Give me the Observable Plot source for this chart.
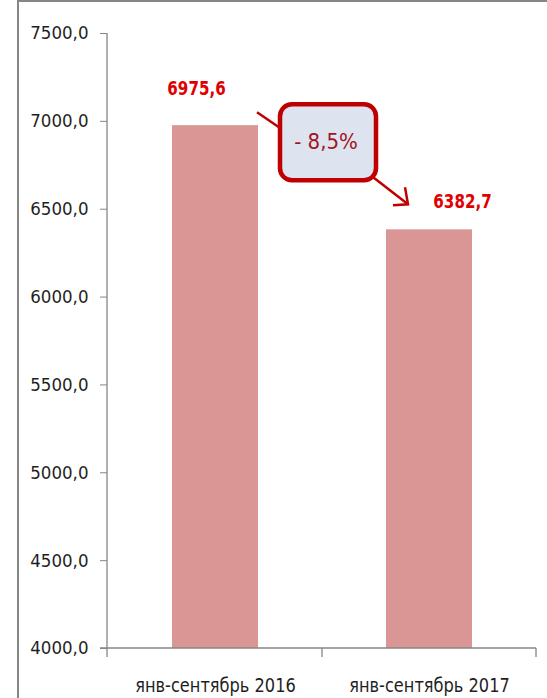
<!DOCTYPE html>
<html><head><meta charset="utf-8">
<script src="https://cdn.jsdelivr.net/npm/d3@7"></script>
<script src="https://cdn.jsdelivr.net/npm/@observablehq/plot@0.6"></script>
<style>
body{margin:0;background:#fff;}
#wrap{position:relative;width:547px;height:698px;overflow:hidden;}
#border{position:absolute;left:17px;top:0;width:700px;height:900px;border-left:2px solid #868686;border-top:2px solid #868686;pointer-events:none;}
svg{overflow:visible;}
</style></head><body><div id="wrap"><div id="chart"></div><div id="border"></div></div>
<script>
const categories = ["янв-сентябрь 2016", "янв-сентябрь 2017"];
const values = [6975.6, 6382.7];
const yTicks = [4000, 4500, 5000, 5500, 6000, 6500, 7000, 7500];

const data = categories.map((c, i) => ({category: c, value: values[i]}));
const comma = (v, p) => d3.format("." + p + "f")(v).replace(".", ",");
const change = (values[1] / values[0] - 1) * 100;
const changeLabel = (change < 0 ? "- " : "+ ") + comma(Math.abs(change), 1) + "%";
const yMin = yTicks[0], yMax = yTicks[yTicks.length - 1];
const narrow = "'Liberation Sans Narrow', 'DejaVu Sans Condensed', 'Roboto Condensed', Roboto, sans-serif";
const axisGray = "#868686";
const svgNS = "http://www.w3.org/2000/svg";
function el(tag, attrs) {
  const e = document.createElementNS(svgNS, tag);
  for (const k in attrs) e.setAttribute(k, attrs[k]);
  return e;
}

// axis lines and band ticks drawn from the scales
function axisLines(index, scales, vals, dims) {
  const g = el("g", {stroke: axisGray, "stroke-width": 1.3, fill: "none"});
  const sx = scales.x, sy = scales.y;
  const bw = typeof sx.bandwidth === "function" ? sx.bandwidth() : 0;
  const left = dims.marginLeft, right = dims.width - dims.marginRight;
  const base = sy(yMin), top = sy(yMax);
  g.append(el("line", {x1: left, x2: left, y1: top, y2: base + 9}));
  g.append(el("line", {x1: left - 7, x2: right, y1: base, y2: base}));
  const mid = (sx(categories[0]) + sx(categories[1])) / 2 + bw / 2;
  for (const x of [mid, right]) g.append(el("line", {x1: x, x2: x, y1: base, y2: base + 9}));
  return g;
}

// change callout between the two bars
function callout(index, scales, vals, dims) {
  const sx = scales.x, sy = scales.y;
  const bw = typeof sx.bandwidth === "function" ? sx.bandwidth() : 0;
  const cx = (sx(categories[0]) + sx(categories[1])) / 2 + bw / 2 + 6;
  const cy = sy((values[0] + values[1]) / 2) - 36;
  const g = el("g", {});
  const red = "#c00000";
  g.append(el("line", {x1: cx - 71, y1: cy - 29, x2: cx - 49, y2: cy - 14, stroke: red, "stroke-width": 2.5}));
  g.append(el("line", {x1: cx + 40, y1: cy + 32, x2: cx + 80, y2: cy + 63, stroke: red, "stroke-width": 2.5}));
  g.append(el("polyline", {points: `${cx + 65},${cy + 64} ${cx + 80},${cy + 63} ${cx + 77},${cy + 46}`, fill: "none", stroke: red, "stroke-width": 2.5}));
  g.append(el("rect", {x: cx - 48, y: cy - 37, width: 96, height: 76, rx: 12, ry: 12, fill: "#dde4ef", stroke: red, "stroke-width": 4.5}));
  const t = el("text", {x: cx - 2, y: cy, "text-anchor": "middle", dy: "0.35em", fill: "#a3141f", "font-size": 22, "font-family": narrow});
  t.textContent = changeLabel;
  g.append(t);
  return g;
}

const plot = Plot.plot({
  width: 547,
  height: 698,
  marginLeft: 107,
  marginRight: 11,
  marginTop: 33,
  marginBottom: 50,
  style: {fontFamily: narrow, background: "transparent", color: "#1f1f1f"},
  x: {domain: categories, paddingInner: 0.6, paddingOuter: 0.3, label: null},
  y: {domain: [yMin, yMax], label: null},
  marks: [
    Plot.barY(data, {x: "category", y1: () => yMin, y2: "value", fill: "#d99694"}),
    Plot.axisY({ticks: yTicks, tickFormat: d => comma(d, 1), tickSize: 7, tickPadding: 12, fontSize: 18.5, stroke: axisGray, fill: "#1f1f1f", label: null}),
    Plot.axisX({tickSize: 0, tickPadding: 29, fontSize: 20, fill: "#1f1f1f", label: null}),
    axisLines,
    Plot.text(data.slice(0, 1), {x: "category", y: "value", text: d => comma(d.value, 1), dx: -19, dy: -37, fill: "#e00000", fontWeight: "bold", fontSize: 20}),
    Plot.text(data.slice(1, 2), {x: "category", y: "value", text: d => comma(d.value, 1), dx: 33, dy: -28.5, fill: "#e00000", fontWeight: "bold", fontSize: 20}),
    callout
  ]
});
document.getElementById("chart").append(plot);
// condense text horizontally to mimic the narrow original face
function condense(selector, ratio) {
  d3.select(plot).selectAll(selector).each(function () {
    const w = this.getComputedTextLength();
    this.setAttribute("textLength", (w * ratio).toFixed(1));
    this.setAttribute("lengthAdjust", "spacingAndGlyphs");
  });
}
condense('g[aria-label="text"] text', 0.84);
condense('g[aria-label="x-axis tick label"] text', 0.9);
</script>
</body></html>
